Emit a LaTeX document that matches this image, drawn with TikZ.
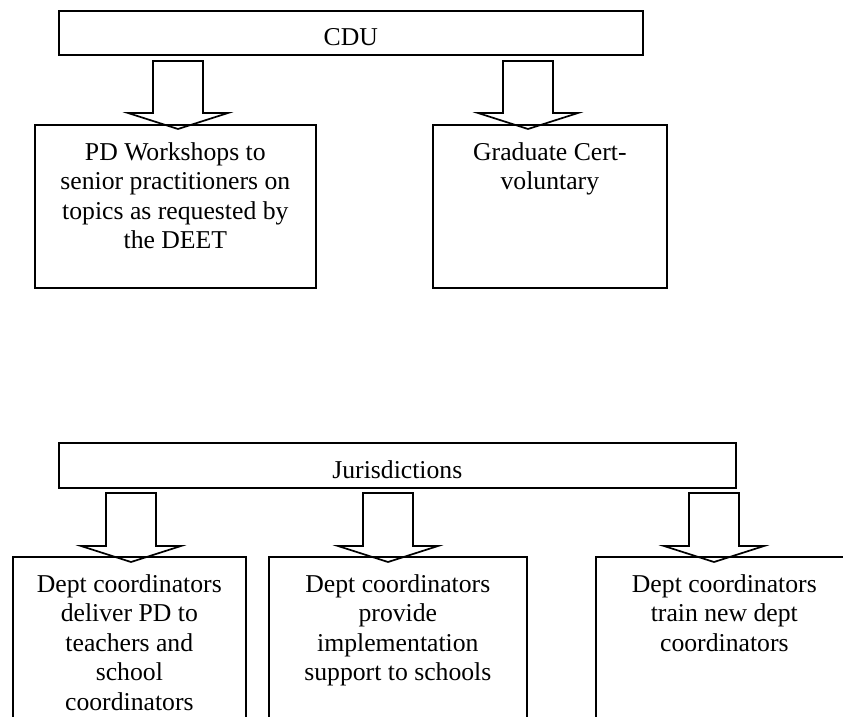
\documentclass[tikz,border=0pt]{standalone}
\usepackage{fontspec}
\setmainfont{Liberation Serif}
\usetikzlibrary{calc}
\tikzset{
  box/.style={draw, line width=1.7pt, inner sep=0pt, anchor=north west},
  lbl/.style={anchor=north, inner sep=0pt, align=center, yshift=-18pt,
    font=\fontsize{25.7}{29.6}\selectfont},
  title/.style={anchor=base, inner sep=0pt, font=\fontsize{25.7}{29.6}\selectfont},
  blockarr/.style={draw, line width=1.7pt, line join=miter}
}
\newcommand\blockarrow[2]{%
  \draw[blockarr] ($(#1)+(-25,0)$) -- ($(#1)+(25,0)$) -- ($(#2)+(25,-16)$)
    -- ($(#2)+(50,-16)$) -- (#2) -- ($(#2)+(-50,-16)$) -- ($(#2)+(-25,-16)$) -- cycle;}
\begin{document}
\begin{tikzpicture}[x=1pt,y=-1pt]
\useasboundingbox (0,0) rectangle (843,717);
\clip (0,0) rectangle (843,717);
\fill[white] (0,0) rectangle (843,717);

% CDU section
\node[box, minimum width=584pt, minimum height=44pt] (cdu) at (58,10) {};
\node[title] (cdut) at ($(cdu.south)+(0,-10)$) {CDU};
\node[box, minimum width=281pt, minimum height=163pt,
  label={[lbl]north:PD Workshops to\\senior practitioners on\\topics as requested by\\the DEET}] (b1) at (34,124) {};
\node[box, minimum width=234pt, minimum height=163pt,
  label={[lbl]north:Graduate Cert-\\voluntary}] (b2) at (432,124) {};

\coordinate (a1s) at (178,61);  \coordinate (a1e) at (178,129);
\coordinate (a2s) at (528,61);  \coordinate (a2e) at (528,129);
\blockarrow{a1s}{a1e}
\blockarrow{a2s}{a2e}

% Jurisdictions section
\node[box, minimum width=677pt, minimum height=45pt] (jur) at (58,442) {};
\node[title] (jurt) at ($(jur.south)+(0,-10)$) {Jurisdictions};
\node[box, minimum width=233pt, minimum height=170pt,
  label={[lbl]north:Dept coordinators\\deliver PD to\\teachers and\\school\\coordinators}] (b3) at (12,556) {};
\node[box, minimum width=258pt, minimum height=170pt,
  label={[lbl]north:Dept coordinators\\provide\\implementation\\support to schools}] (b4) at (268,556) {};
\node[box, minimum width=257pt, minimum height=170pt,
  label={[lbl]north:Dept coordinators\\train new dept\\coordinators}] (b5) at (595,556) {};

\coordinate (a3s) at (131,493);  \coordinate (a3e) at (131,562);
\coordinate (a4s) at (388,493);  \coordinate (a4e) at (388,562);
\coordinate (a5s) at (714,493);  \coordinate (a5e) at (714,562);
\blockarrow{a3s}{a3e}
\blockarrow{a4s}{a4e}
\blockarrow{a5s}{a5e}
\end{tikzpicture}
\end{document}
